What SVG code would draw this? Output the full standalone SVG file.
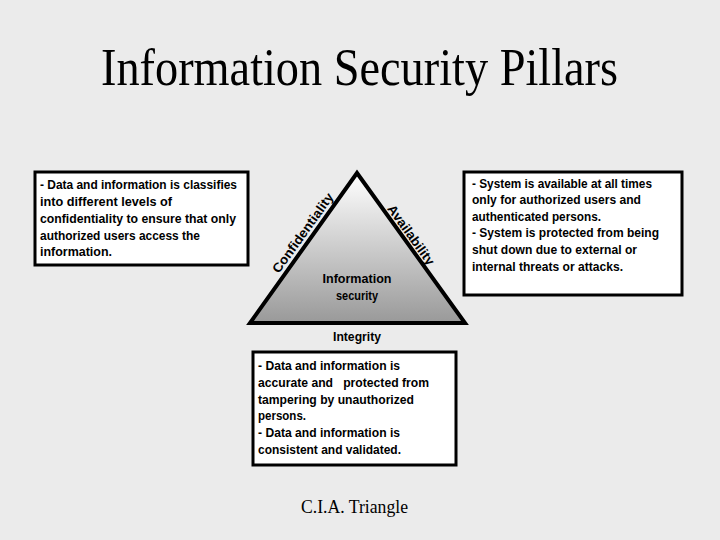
<svg xmlns="http://www.w3.org/2000/svg" width="720" height="540" viewBox="0 0 720 540">
<defs>
<linearGradient id="triGrad" x1="0" y1="0" x2="0" y2="1">
<stop offset="0" stop-color="#ffffff"/>
<stop offset="1" stop-color="#999999"/>
</linearGradient>
<style>
.t{font-family:"Liberation Sans",Arial,sans-serif;font-size:13px;font-weight:bold;fill:#000}
.box{fill:#ffffff;stroke:#000;stroke-width:3}
.c{text-anchor:middle}
</style>
</defs>
<rect width="720" height="540" fill="#ebebeb"/>
<text x="359.5" y="85" font-family="'Liberation Serif','Times New Roman',serif" font-size="52" text-anchor="middle" textLength="517" lengthAdjust="spacingAndGlyphs" fill="#000">Information Security Pillars</text>

<g id="triangle">
<polygon points="357,173 250,323 465,323" fill="url(#triGrad)" stroke="#000" stroke-width="4" stroke-linejoin="miter"/>
<text class="t c" x="357" y="283" textLength="69" lengthAdjust="spacingAndGlyphs">Information</text>
<text class="t c" x="357" y="300" textLength="42" lengthAdjust="spacingAndGlyphs">security</text>
<text class="t c" transform="translate(306.5,235.5) rotate(-54.4)" x="0" y="0" textLength="95" lengthAdjust="spacingAndGlyphs">Confidentiality</text>
<text class="t c" transform="translate(407.5,237.5) rotate(54.4)" x="0" y="0" textLength="71" lengthAdjust="spacingAndGlyphs">Availability</text>
<text class="t c" x="357" y="341" textLength="48" lengthAdjust="spacingAndGlyphs">Integrity</text>
</g>

<g id="confidentiality-box">
<rect class="box" x="35" y="172" width="213" height="93"/>
<text class="t" x="40" y="189" textLength="197" lengthAdjust="spacingAndGlyphs">- Data and information is classifies</text>
<text class="t" x="40" y="206" textLength="132" lengthAdjust="spacingAndGlyphs">into different levels of</text>
<text class="t" x="40" y="223" textLength="196" lengthAdjust="spacingAndGlyphs">confidentiality to ensure that only</text>
<text class="t" x="40" y="240" textLength="160" lengthAdjust="spacingAndGlyphs">authorized users access the</text>
<text class="t" x="40" y="256" textLength="72" lengthAdjust="spacingAndGlyphs">information.</text>
</g>

<g id="availability-box">
<rect class="box" x="464" y="172" width="218" height="123"/>
<text class="t" x="472" y="188" textLength="180" lengthAdjust="spacingAndGlyphs">- System is available at all times</text>
<text class="t" x="472" y="204" textLength="169" lengthAdjust="spacingAndGlyphs">only for authorized users and</text>
<text class="t" x="472" y="221" textLength="129" lengthAdjust="spacingAndGlyphs">authenticated persons.</text>
<text class="t" x="472" y="237" textLength="187" lengthAdjust="spacingAndGlyphs">- System is protected from being</text>
<text class="t" x="472" y="254" textLength="165" lengthAdjust="spacingAndGlyphs">shut down due to external or</text>
<text class="t" x="472" y="271" textLength="151" lengthAdjust="spacingAndGlyphs">internal threats or attacks.</text>
</g>

<g id="integrity-box">
<rect class="box" x="253" y="352" width="203" height="113"/>
<text class="t" x="258" y="370" textLength="142" lengthAdjust="spacingAndGlyphs">- Data and information is</text>
<text class="t" x="258" y="387" textLength="171" lengthAdjust="spacingAndGlyphs" xml:space="preserve">accurate and   protected from</text>
<text class="t" x="258" y="404" textLength="156" lengthAdjust="spacingAndGlyphs">tampering by unauthorized</text>
<text class="t" x="258" y="420" textLength="48" lengthAdjust="spacingAndGlyphs">persons.</text>
<text class="t" x="258" y="437" textLength="142" lengthAdjust="spacingAndGlyphs">- Data and information is</text>
<text class="t" x="258" y="454" textLength="143" lengthAdjust="spacingAndGlyphs">consistent and validated.</text>
</g>

<text x="354.5" y="513" font-family="'Liberation Serif','Times New Roman',serif" font-size="18" text-anchor="middle" textLength="107" lengthAdjust="spacingAndGlyphs" fill="#000">C.I.A. Triangle</text>
</svg>
